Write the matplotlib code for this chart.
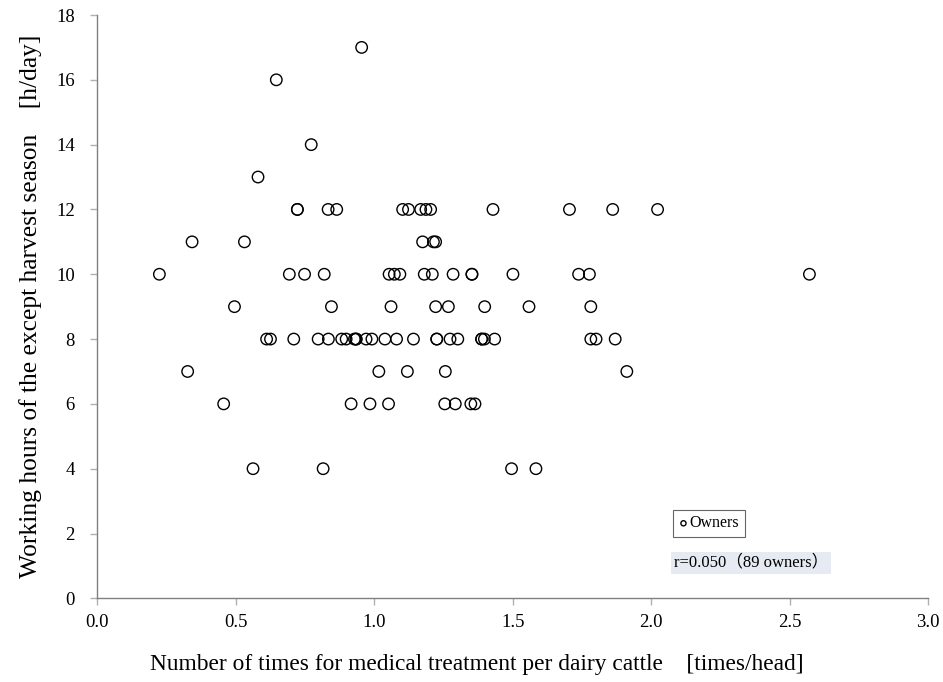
import matplotlib.pyplot as plt

# Number of medical treatments per head (x) and working hours (y), grouped by hour level
hours = [17, 16, 14, 13, 12, 11, 10, 9, 8, 7, 6, 4]
treatments = [
    [0.955],
    [0.647],
    [0.773],
    [0.581],
    [0.723, 0.723, 0.834, 0.865, 1.103, 1.124, 1.168, 1.187, 1.204, 1.429, 1.705, 1.861, 2.023],
    [0.343, 0.532, 1.175, 1.214, 1.222],
    [0.225, 0.694, 0.749, 0.820, 1.054, 1.073, 1.093, 1.181, 1.210, 1.285, 1.353, 1.353,
     1.501, 1.738, 1.777, 2.571],
    [0.496, 0.846, 1.061, 1.222, 1.268, 1.399, 1.559, 1.782],
    [0.612, 0.626, 0.710, 0.798, 0.835, 0.883, 0.899, 0.929, 0.935, 0.935, 0.971, 0.992,
     1.039, 1.081, 1.142, 1.226, 1.226, 1.274, 1.302, 1.388, 1.388, 1.398, 1.435, 1.782,
     1.801, 1.870],
    [0.327, 1.017, 1.120, 1.257, 1.912],
    [0.457, 0.917, 0.985, 1.052, 1.255, 1.293, 1.349, 1.364],
    [0.563, 0.816, 1.496, 1.584],
]

x = [v for row in treatments for v in row]
y = [h for h, row in zip(hours, treatments) for _ in row]

plt.rcParams['font.family'] = ['Liberation Serif', 'Noto Sans CJK JP', 'DejaVu Sans']

fig = plt.figure(figsize=(9.43, 6.82), dpi=100)
ax = fig.add_axes([0.1029, 0.1227, 0.8815, 0.8553])

ax.scatter(x, y, s=68, facecolors='none', edgecolors='black', linewidths=1.0,
           label='Owners', zorder=3)

ax.set_xlim(0, 3.0)
ax.set_ylim(0, 18)
ax.set_xticks([0.0, 0.5, 1.0, 1.5, 2.0, 2.5, 3.0])
ax.set_xticklabels(['0.0', '0.5', '1.0', '1.5', '2.0', '2.5', '3.0'])
ax.set_yticks(range(0, 19, 2))

for side in ['top', 'right']:
    ax.spines[side].set_visible(False)
for side in ['left', 'bottom']:
    ax.spines[side].set_color('#808080')
    ax.spines[side].set_linewidth(1.0)
ax.tick_params(axis='both', direction='out', length=5, width=1, color='#b0b0b0',
               labelsize=13.5)
ax.tick_params(axis='x', pad=6)
ax.tick_params(axis='y', pad=11)

ax.set_xlabel('Number of times for medical treatment per dairy cattle    [times/head]',
              fontsize=16.8, labelpad=20)
ax.xaxis.set_label_coords(0.457, -0.095)
ax.set_ylabel('Working hours of the except harvest season    [h/day]',
              fontsize=18.4, labelpad=10)

leg = ax.legend(loc='lower left', bbox_to_anchor=(0.693, 0.105), fontsize=11.5,
                frameon=True, fancybox=False, handlelength=0.6, handletextpad=0.1,
                borderpad=0.35, borderaxespad=0, markerscale=0.45)
leg.get_frame().set_edgecolor('#404040')
leg.get_frame().set_linewidth(0.8)

ax.text(0.6935, 0.061, 'r=0.050（89 owners）', transform=ax.transAxes, fontsize=12,
        va='center', ha='left',
        bbox=dict(facecolor='#e6ebf3', edgecolor='none', pad=2.0))

fig.savefig('out.png', dpi=100)
